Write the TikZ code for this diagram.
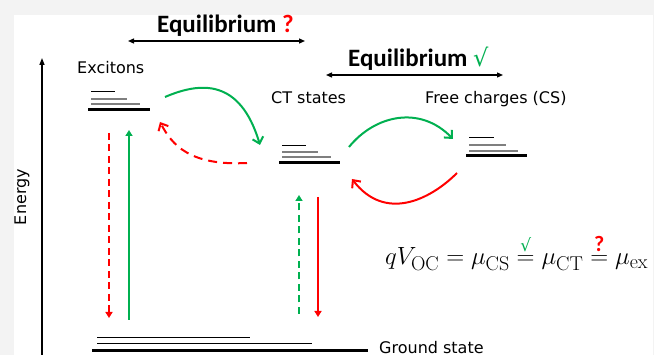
\documentclass[tikz,border=0pt]{standalone}
\usepackage[no-math]{fontspec}
\usepackage{amsmath}
\setmainfont{DejaVu Sans}
\newfontfamily\eqfont{Carlito}
\newfontfamily\lmr{Latin Modern Roman}
\usetikzlibrary{arrows.meta}
\definecolor{okgreen}{HTML}{00B050}
\definecolor{okred}{HTML}{FF0000}
\definecolor{bggray}{HTML}{F3F3F3}
\definecolor{lvlgray}{HTML}{7F7F7F}
\newcommand{\subtx}[1]{\text{\lmr\fontsize{20}{20}\selectfont #1}}
\tikzset{
  lbl/.style={inner sep=0pt, anchor=base west, font=\fontsize{16}{19}\selectfont},
  eqtitle/.style={inner sep=0pt, anchor=base west, font=\eqfont\bfseries\fontsize{25}{28}\selectfont},
  thinlvl/.style={line width=1pt, black},
  graylvl/.style={line width=1.3pt, lvlgray},
  thicklvl/.style={line width=3pt, black},
  eqarrow/.style={line width=1.3pt, {Triangle[length=6pt,width=5pt]}-{Triangle[length=6pt,width=5pt]}},
  vert/.style={line width=2pt, -{Triangle[length=6pt,width=7pt]}},
  curv/.style={line width=2pt, -{Straight Barb[length=6pt,width=11pt]}},
  dsh/.style={dash pattern=on 7pt off 4.5pt},
  cdsh/.style={dash pattern=on 9pt off 6pt},
}
\begin{document}
\begin{tikzpicture}[x=1pt,y=-1pt]
\useasboundingbox (0,0) rectangle (654,355);
\fill[bggray] (0,0) rectangle (654,355);
\fill[white] (14,15) rectangle (653,355);

% energy axis
\coordinate (axb) at (42,355);
\coordinate (axt) at (42,58);
\draw[line width=1.3pt, -{Triangle[length=7pt,width=5pt]}] (axb) -- (axt);
\node[rotate=90, inner sep=0pt, font=\fontsize{16}{19}\selectfont] (energy) at (22,197) {Energy};

% equilibrium labels
\node[eqtitle] (eq1) at (157,33) {Equilibrium \textcolor{okred}{?}};
\coordinate (e1l) at (128,41); \coordinate (e1r) at (305,41);
\draw[eqarrow] (e1l) -- (e1r);
\node[eqtitle] (eq2) at (348,67) {Equilibrium \textcolor{okgreen}{\normalfont\fontsize{24}{28}\selectfont √}};
\coordinate (e2l) at (326,75); \coordinate (e2r) at (503,75);
\draw[eqarrow] (e2l) -- (e2r);

% state labels
\node[lbl] (exlbl) at (77,74) {Excitons};
\node[lbl] (ctlbl) at (271,104) {CT states};
\node[lbl] (cslbl) at (425,104) {Free charges (CS)};
\node[lbl] (gslbl) at (379,354) {Ground state};

% exciton levels
\draw[thinlvl] (91,92) -- (115,92);
\draw[graylvl] (91,99) -- (127,99);
\draw[graylvl] (91,104) -- (140,104);
\draw[thicklvl] (88,110) -- (150,110);
% CT levels
\draw[thinlvl] (282,146) -- (306,146);
\draw[graylvl] (282,152) -- (318,152);
\draw[graylvl] (282,157) -- (331,157);
\draw[thicklvl] (279,163) -- (340,163);
% CS levels
\draw[thinlvl] (469,138) -- (494,138);
\draw[graylvl] (469,145) -- (506,145);
\draw[graylvl] (469,151) -- (518,151);
\draw[thicklvl] (466,156) -- (527,156);
% ground state levels
\draw[thinlvl] (97,338) -- (250,338);
\draw[thinlvl] (97,344) -- (312,344);
\draw[thicklvl] (92,351) -- (368,351);

% curved transfers
\coordinate (exR) at (165,97);
\coordinate (ctIn) at (260,145);
\draw[curv, okgreen] (exR) .. controls (200,82) and (240,78) .. (ctIn);
\coordinate (ctL) at (247,163);
\coordinate (exIn) at (160,122);
\draw[curv, okred, cdsh] (ctL) .. controls (190,166) and (172,145) .. (exIn);
\coordinate (ctR) at (349,147);
\coordinate (csIn) at (453,139);
\draw[curv, okgreen] (ctR) .. controls (375,115) and (420,105) .. (csIn);
\coordinate (csL) at (457,173);
\coordinate (ctIn2) at (352,179);
\draw[curv, okred] (csL) .. controls (430,200) and (385,222) .. (ctIn2);

% vertical transitions
\coordinate (r1t) at (109,133); \coordinate (r1b) at (109,318);
\draw[vert, okred, dsh] (r1t) -- (r1b);
\coordinate (g1b) at (129,320); \coordinate (g1t) at (129,130);
\draw[vert, okgreen] (g1b) -- (g1t);
\coordinate (g2b) at (299,314); \coordinate (g2t) at (299,195);
\draw[vert, okgreen, dsh] (g2b) -- (g2t);
\coordinate (r2t) at (318,197); \coordinate (r2b) at (318,317);
\draw[vert, okred] (r2t) -- (r2b);

% equation
\node[inner sep=0pt, anchor=base west, font=\fontsize{28}{31}\selectfont] (eqn) at (385,265)
  {$qV_{\subtx{OC}} = \mu_{\subtx{CS}} \overset{\text{\fontsize{17}{17}\selectfont\textcolor{okgreen}{√}}}{=} \mu_{\subtx{CT}} \overset{\text{\eqfont\bfseries\fontsize{22}{22}\selectfont\textcolor{okred}{?}}}{=} \mu_{\subtx{ex}}$};
\end{tikzpicture}
\end{document}
